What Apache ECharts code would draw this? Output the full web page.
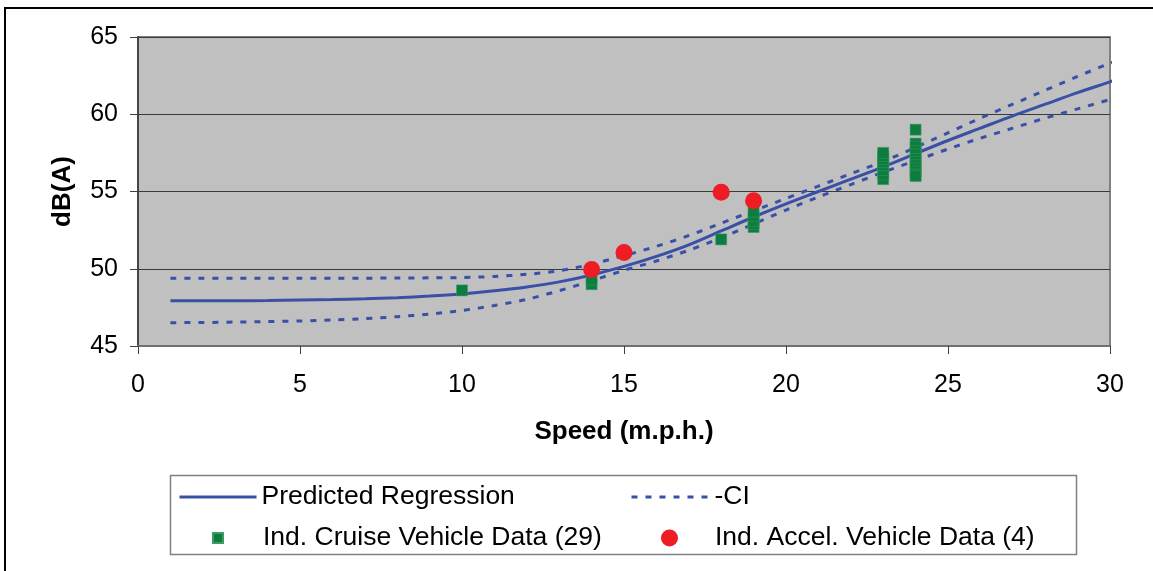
<!DOCTYPE html>
<html>
<head>
<meta charset="utf-8">
<title>dB(A) vs Speed</title>
<script src="https://cdn.jsdelivr.net/npm/echarts@6/dist/echarts.min.js"></script>
<style>
  html, body { margin: 0; padding: 0; background: #fff; }
  #chart { width: 1153px; height: 571px; }
</style>
</head>
<body>
<div id="chart"></div>
<script>
// fitted curve and confidence band
var speedGrid = [1, 2, 3, 4, 5, 6, 7, 8, 9, 10, 11, 12, 13, 14, 15, 16, 17, 18, 19, 20,
  21, 22, 23, 24, 25, 26, 27, 28, 29, 30, 30.2];
var regression = [47.93, 47.93, 47.93, 47.94, 47.97, 48.01, 48.06, 48.13, 48.23, 48.37,
  48.57, 48.82, 49.15, 49.6, 50.15, 50.8, 51.55, 52.45, 53.35, 54.2,
  55.0, 55.8, 56.6, 57.45, 58.3, 59.1, 59.9, 60.65, 61.4, 62.1, 62.25];
var ciHigh = [49.38, 49.38, 49.38, 49.38, 49.38, 49.38, 49.39, 49.4, 49.41, 49.43,
  49.5, 49.64, 49.87, 50.3, 50.85, 51.45, 52.15, 52.95, 53.75, 54.55,
  55.35, 56.15, 56.95, 57.85, 58.8, 59.75, 60.65, 61.55, 62.45, 63.3, 63.45];
var ciLow = [46.51, 46.52, 46.55, 46.58, 46.62, 46.68, 46.77, 46.9, 47.07, 47.3,
  47.62, 48.02, 48.58, 49.22, 49.9, 50.5, 51.2, 52.0, 52.9, 53.8,
  54.65, 55.45, 56.25, 57.0, 57.75, 58.45, 59.1, 59.75, 60.35, 60.95, 61.05];

// individual vehicles
var cruiseSpeed = [10, 14, 14, 18, 19, 19, 19, 19, 19,
  23, 23, 23, 23, 23, 23, 23, 23,
  24, 24, 24, 24, 24, 24, 24, 24, 24, 24, 24, 24];
var cruiseLevel = [48.6, 49.0, 49.3, 51.9, 52.7, 52.9, 53.1, 53.4, 53.7,
  55.8, 56.1, 56.4, 56.7, 56.9, 57.1, 57.3, 57.5,
  59.0, 58.1, 57.9, 57.6, 57.4, 57.1, 56.9, 56.7, 56.5, 56.3, 56.1, 56.0];
var accelSpeed = [14, 15, 18, 19];
var accelLevel = [49.95, 51.05, 54.95, 54.4];

var xTicks = [0, 5, 10, 15, 20, 25, 30];
var yTicks = [45, 50, 55, 60, 65];

function pairs(xs, ys) {
  var out = [];
  for (var i = 0; i < xs.length; i++) {
    out.push([xs[i], ys[i]]);
  }
  return out;
}

var font = "'Liberation Sans', Arial, sans-serif";
var blue = '#3A50A6';
function legendText(padLeft) {
  return { fontSize: 26.5, lineHeight: 28, color: '#000', fontFamily: font, padding: [0, 0, 0, padLeft] };
}

var myChart = echarts.init(document.getElementById('chart'), null, { renderer: 'canvas' });
var option = {
  animation: false,
  backgroundColor: '#ffffff',
  textStyle: { fontFamily: font },
  grid: {
    left: 138,
    right: 43,
    top: 37,
    bottom: 225,
    show: true,
    backgroundColor: '#C0C0C0',
    borderColor: '#808080',
    borderWidth: 2,
    outerBoundsMode: 'none'
  },
  xAxis: {
    type: 'value',
    min: xTicks[0],
    max: xTicks[xTicks.length - 1],
    interval: 5,
    name: 'Speed (m.p.h.)',
    nameLocation: 'middle',
    nameGap: 73,
    nameTextStyle: { fontSize: 26, fontWeight: 'bold', color: '#000', fontFamily: font },
    axisLine: { show: true, lineStyle: { color: '#707070', width: 2 } },
    axisTick: { show: true, length: 8, lineStyle: { color: '#404040', width: 1 } },
    axisLabel: { fontSize: 25, color: '#000', margin: 27, fontFamily: font },
    splitLine: { show: false }
  },
  yAxis: {
    type: 'value',
    min: yTicks[0],
    max: yTicks[yTicks.length - 1],
    interval: 5,
    name: 'dB(A)',
    nameLocation: 'middle',
    nameRotate: 90,
    nameGap: 62,
    nameTextStyle: { fontSize: 26, fontWeight: 'bold', color: '#000', fontFamily: font },
    axisLine: { show: true, lineStyle: { color: '#303030', width: 1.5 } },
    axisTick: { show: true, length: 8, lineStyle: { color: '#404040', width: 1 } },
    axisLabel: { fontSize: 25, color: '#000', margin: 20, fontFamily: font },
    splitLine: { show: true, lineStyle: { color: '#3a3a3a', width: 1 } }
  },
  legend: [
    {
      data: ['Predicted Regression'],
      left: 178, top: 483, padding: 0,
      itemWidth: 77, itemHeight: 14,
      selectedMode: false,
      lineStyle: { width: 3 },
      itemStyle: { opacity: 0 },
      textStyle: legendText(0)
    },
    {
      data: ['-CI'],
      left: 630, top: 483, padding: 0,
      itemWidth: 78, itemHeight: 14,
      selectedMode: false,
      lineStyle: { width: 3 },
      itemStyle: { opacity: 0 },
      textStyle: legendText(0)
    },
    {
      data: [{ name: 'Ind. Cruise Vehicle Data (29)', icon: 'rect' }],
      left: 212, top: 524, padding: 0,
      itemWidth: 10, itemHeight: 10,
      selectedMode: false,
      textStyle: legendText(35)
    },
    {
      data: [{ name: 'Ind. Accel. Vehicle Data (4)', icon: 'circle' }],
      left: 661, top: 524, padding: 0,
      itemWidth: 17, itemHeight: 17,
      selectedMode: false,
      textStyle: legendText(32)
    }
  ],
  graphic: [
    {
      type: 'rect',
      shape: { x: 5, y: 8, width: 1200, height: 620 },
      style: { fill: 'none', stroke: '#000', lineWidth: 2 },
      silent: true
    },
    {
      type: 'rect',
      shape: { x: 170.5, y: 475.5, width: 906, height: 79 },
      style: { fill: 'none', stroke: '#808080', lineWidth: 1.5 },
      silent: true
    }
  ],
  series: [
    {
      name: 'Predicted Regression',
      type: 'line',
      data: pairs(speedGrid, regression),
      symbol: 'none',
      smooth: 0.3,
      clip: false,
      lineStyle: { color: blue, width: 3 },
      itemStyle: { color: blue },
      z: 2
    },
    {
      name: '-CI',
      type: 'line',
      data: pairs(speedGrid, ciLow),
      symbol: 'none',
      smooth: 0.3,
      clip: false,
      lineStyle: { color: blue, width: 3, type: [6, 8] },
      itemStyle: { color: blue },
      z: 2
    },
    {
      name: '+CI',
      type: 'line',
      data: pairs(speedGrid, ciHigh),
      symbol: 'none',
      smooth: 0.3,
      clip: false,
      lineStyle: { color: blue, width: 3, type: [6, 8] },
      itemStyle: { color: blue },
      z: 2
    },
    {
      name: 'Ind. Cruise Vehicle Data (29)',
      type: 'scatter',
      data: pairs(cruiseSpeed, cruiseLevel),
      symbol: 'rect',
      symbolSize: 11,
      itemStyle: { color: '#0B7D3E', borderColor: '#3f9a63', borderWidth: 0.5, opacity: 1 },
      z: 3
    },
    {
      name: 'Ind. Accel. Vehicle Data (4)',
      type: 'scatter',
      data: pairs(accelSpeed, accelLevel),
      symbol: 'circle',
      symbolSize: 17,
      itemStyle: { color: '#EE1C25', opacity: 1 },
      z: 4
    }
  ]
};
myChart.setOption(option);
</script>
</body>
</html>
